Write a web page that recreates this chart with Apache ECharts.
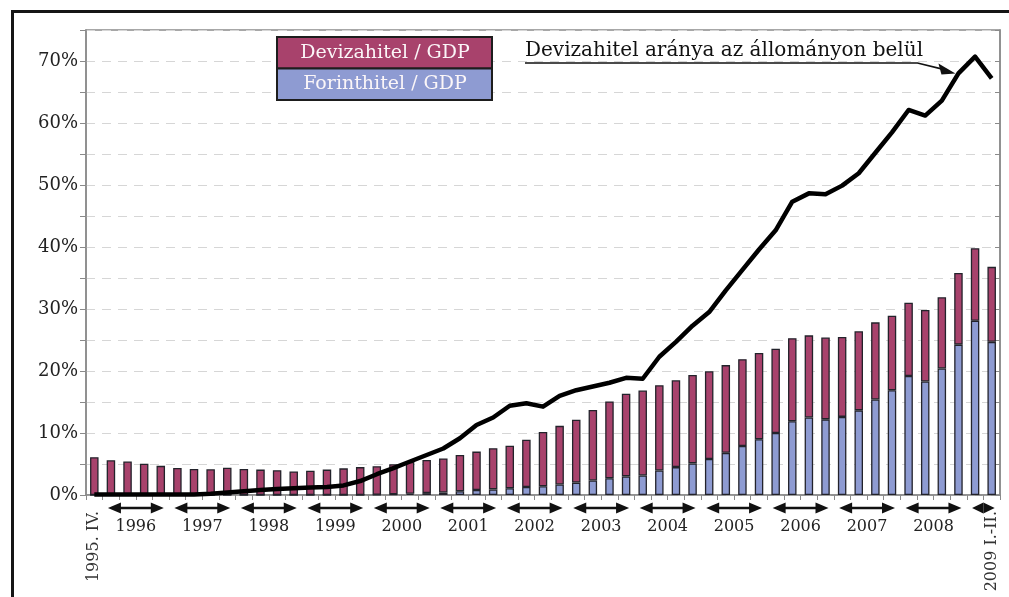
<!DOCTYPE html>
<html>
<head>
<meta charset="utf-8">
<script src="https://cdn.jsdelivr.net/npm/echarts@6/dist/echarts.min.js"></script>
<style>
  html, body { margin: 0; padding: 0; background: #fff; }
  #chart { width: 1009px; height: 597px; }
</style>
</head>
<body>
<div id="chart"></div>
<script>
// negyedéves kategóriák: 1995. IV. – 2009. II.
const years = ['1996', '1997', '1998', '1999', '2000', '2001', '2002', '2003', '2004', '2005', '2006', '2007', '2008'];
const quarterNames = ['I.', 'II.', 'III.', 'IV.'];
const categories = ['1995. IV.'];
years.forEach(y => quarterNames.forEach(q => categories.push(y + '. ' + q)));
categories.push('2009. I.', '2009. II.');

const edgeLabels = { 0: '1995. IV.', 54: '2009 I.-II.' };

// Forinthitel / GDP (%)
const forint = [
  0, 0, 0, 0, 0, 0, 0, 0, 0, 0, 0, 0, 0, 0, 0, 0, 0, 0.05, 0.1,
  0.2, 0.3, 0.4, 0.6, 0.8, 0.9, 1.1, 1.3, 1.4, 1.7, 2.0, 2.35, 2.7, 3.0, 3.15, 3.95,
  4.5, 5.1, 5.8, 6.8, 7.9, 9.0, 10.0, 11.9, 12.5, 12.2, 12.6, 13.65, 15.4, 16.9,
  19.2, 18.3, 20.4, 24.25, 28.1, 24.7
];
// Devizahitel / GDP (%)
const deviza = [
  6.1, 5.6, 5.4, 5.05, 4.7, 4.35, 4.2, 4.15, 4.4, 4.2, 4.1, 4.0, 3.8, 3.9, 4.1, 4.3, 4.5, 4.6, 4.85,
  5.15, 5.35, 5.5, 5.85, 6.2, 6.65, 6.85, 7.6, 8.75, 9.45, 10.15, 11.35, 12.4, 13.35, 13.7, 13.75,
  14.0, 14.25, 14.15, 14.15, 14.0, 13.9, 13.6, 13.4, 13.25, 13.2, 12.9, 12.75, 12.45, 12.0,
  11.8, 11.55, 11.5, 11.55, 11.7, 12.1
];
// Devizahitel aránya az állományon belül (%)
const share = [
  0.1, 0.1, 0.1, 0.1, 0.1, 0.1, 0.1, 0.2, 0.4, 0.6, 0.8, 0.95, 1.1, 1.2, 1.3, 1.55, 2.25, 3.35, 4.35,
  5.4, 6.45, 7.5, 9.15, 11.3, 12.5, 14.4, 14.8, 14.25, 16.0, 16.9, 17.5, 18.1, 18.9, 18.75, 22.3,
  24.7, 27.3, 29.5, 33.0, 36.3, 39.6, 42.7, 47.3, 48.65, 48.5, 49.9, 51.9, 55.2, 58.5,
  62.1, 61.2, 63.6, 68.0, 70.7, 67.2
];

const serif = "'DejaVu Serif', 'Liberation Serif', serif";
const devizaColor = '#a8426c';
const forintColor = '#8e9bd2';
const axisGray = '#8a8a8a';

const mychart = echarts.init(document.getElementById('chart'));

const option = {
  animation: false,
  backgroundColor: '#fff',
  grid: {
    left: 86,
    right: 9,
    top: 30,
    bottom: 102,
    show: true,
    borderColor: axisGray,
    borderWidth: 1.5
  },
  xAxis: {
    type: 'category',
    data: categories,
    axisLine: { lineStyle: { color: axisGray, width: 1.5 } },
    axisTick: { show: true, length: 5, interval: 0, lineStyle: { color: axisGray } },
    axisLabel: {
      interval: 0,
      rotate: 90,
      margin: 16,
      fontFamily: serif,
      fontSize: 16,
      color: '#333',
      formatter: (v, idx) => edgeLabels[idx] || ''
    }
  },
  yAxis: [
    {
      type: 'value',
      min: 0,
      max: 75,
      interval: 5,
      axisLine: { show: true, lineStyle: { color: axisGray, width: 1.5 } },
      axisTick: { show: true, length: 6, lineStyle: { color: axisGray } },
      axisLabel: {
        fontFamily: serif,
        fontSize: 18,
        color: '#222',
        margin: 8,
        formatter: v => (v % 10 === 0 && v < 75 ? v + '%' : '')
      },
      splitLine: { show: true, lineStyle: { color: '#d6d6d6', type: [9, 7], width: 1 } }
    },
    {
      type: 'value',
      min: 0,
      max: 75,
      interval: 5,
      position: 'right',
      axisLine: { show: true, lineStyle: { color: axisGray, width: 1.5 } },
      axisTick: { show: true, inside: true, length: 5, lineStyle: { color: axisGray } },
      axisLabel: { show: false },
      splitLine: { show: false }
    }
  ],
  series: [
    {
      name: 'Forinthitel / GDP',
      type: 'bar',
      stack: 'hitel',
      barWidth: 8.5,
      itemStyle: { color: forintColor, borderColor: '#23232b', borderWidth: 1.3 },
      data: forint
    },
    {
      name: 'Devizahitel / GDP',
      type: 'bar',
      stack: 'hitel',
      barWidth: 8.5,
      itemStyle: { color: devizaColor, borderColor: '#23232b', borderWidth: 1.3 },
      data: deviza
    },
    {
      name: 'Devizahitel aránya az állományon belül',
      type: 'line',
      symbol: 'none',
      z: 10,
      lineStyle: { color: '#000', width: 4.5, join: 'round' },
      data: share
    }
  ]
};
mychart.setOption(option);

// kiegészítő rajzelemek: keret, jelmagyarázat, évek nyilai, felirat
const px = i => mychart.convertToPixel({ xAxisIndex: 0 }, i);
const py = v => mychart.convertToPixel({ yAxisIndex: 0 }, v);
const graphics = [];

graphics.push({
  type: 'rect', left: 10, top: 9, z: 0, silent: true,
  shape: { width: 1100, height: 700 },
  style: { fill: 'none', stroke: '#151515', lineWidth: 3 }
});

// jelmagyarázat
const legendRows = [
  { name: 'Devizahitel / GDP', color: devizaColor },
  { name: 'Forinthitel / GDP', color: forintColor }
];
legendRows.forEach((r, k) => {
  graphics.push({
    type: 'rect', z: 20,
    shape: { x: 277, y: 37 + k * 31.5, width: 215, height: 31.5 },
    style: { fill: r.color, stroke: '#1d1d1d', lineWidth: 2 }
  });
  graphics.push({
    type: 'text', z: 21, x: 385, y: 53 + k * 31.5,
    style: { text: r.name, fill: '#fbf6f8', font: '19px ' + serif, align: 'center', verticalAlign: 'middle' }
  });
});

// évek alatti kétirányú nyilak
const arrowY = py(0) + 13;
const headLen = 13, headH = 5.5;
function arrow(x1, x2) {
  const h = Math.min(headLen, (x2 - x1) / 2);
  graphics.push({
    type: 'polygon', z: 20,
    shape: { points: [[x1, arrowY], [x1 + h, arrowY - headH], [x1 + h, arrowY + headH]] },
    style: { fill: '#111' }
  });
  graphics.push({
    type: 'polygon', z: 20,
    shape: { points: [[x2, arrowY], [x2 - h, arrowY - headH], [x2 - h, arrowY + headH]] },
    style: { fill: '#111' }
  });
  if (x2 - x1 > 2 * h) {
    graphics.push({
      type: 'line', z: 20,
      shape: { x1: x1 + h - 1, y1: arrowY, x2: x2 - h + 1, y2: arrowY },
      style: { stroke: '#111', lineWidth: 2.5 }
    });
  }
}
years.forEach((y, k) => {
  const a = px(1 + 4 * k), b = px(4 + 4 * k);
  arrow(a - 3, b + 3);
  graphics.push({
    type: 'text', z: 20, x: (a + b) / 2, y: arrowY + 19,
    style: { text: y, fill: '#222', font: '16px ' + serif, align: 'center', verticalAlign: 'middle' }
  });
});
arrow(px(53) - 3, px(54) + 3);

// felirat nyíllal a vonalhoz
const tipX = px(52) - 3, tipY = py(share[52]);
const lineY = 63;
graphics.push({
  type: 'text', z: 20, x: 525, y: lineY - 2,
  style: { text: 'Devizahitel aránya az állományon belül', fill: '#111', font: '20px ' + serif, align: 'left', verticalAlign: 'bottom' }
});
graphics.push({
  type: 'polyline', z: 20,
  shape: { points: [[525, lineY], [tipX - 38, lineY], [tipX - 12, tipY - 4]] },
  style: { stroke: '#111', lineWidth: 1.6, fill: 'none' }
});
graphics.push({
  type: 'polygon', z: 20,
  shape: { points: [[tipX, tipY], [tipX - 17, tipY - 10], [tipX - 14, tipY + 1]] },
  style: { fill: '#111' }
});

mychart.setOption({ graphic: graphics });
window.addEventListener('resize', () => mychart.resize());
</script>
</body>
</html>
